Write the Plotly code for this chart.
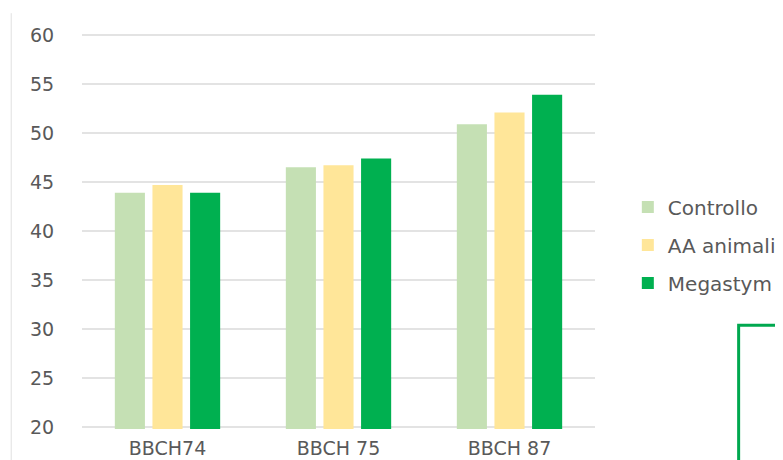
import plotly.graph_objects as go

categories = ["BBCH74", "BBCH 75", "BBCH 87"]
controllo = [43.9, 46.5, 50.9]
aa_animali = [44.7, 46.7, 52.1]
megastym = [43.9, 47.4, 53.9]
series_names = ["Controllo", "AA animali", "Megastym"]
series_colors = ["#C5E0B4", "#FFE699", "#00B050"]
y_ticks = [20, 25, 30, 35, 40, 45, 50, 55, 60]

fig = go.Figure()
for name, vals, col in zip(series_names, [controllo, aa_animali, megastym], series_colors):
    fig.add_trace(go.Bar(
        x=categories, y=vals, name=name, marker_color=col,
        marker_line_width=0, legendgroup=name,
    ))

font_family = "DejaVu Sans"
fig.update_layout(
    width=783, height=460,
    margin=dict(l=74, r=196, t=25, b=39, autoexpand=False),
    paper_bgcolor="white", plot_bgcolor="white",
    barmode="group", bargap=0.34, bargroupgap=0.2,
    font=dict(family=font_family, color="#595959"),
    showlegend=True,
    legend=dict(
        x=1.064, xanchor="left", y=0.61, yanchor="top",
        font=dict(size=20, color="#595959", family=font_family),
        traceorder="grouped", tracegroupgap=9,
        bgcolor="rgba(0,0,0,0)",
    ),
    xaxis=dict(
        showgrid=False, showline=False, zeroline=False, automargin=False,
        tickfont=dict(size=19, color="#595959"),
        ticks="outside", ticklen=2, tickcolor="rgba(0,0,0,0)",
    ),
    yaxis=dict(
        range=[19.8, 60.2], tickvals=y_ticks, automargin=False,
        showgrid=True, gridcolor="#E3E3E3", gridwidth=1.5,
        zeroline=False, showline=False,
        tickfont=dict(size=19, color="#595959"),
        ticks="outside", ticklen=23, tickcolor="rgba(0,0,0,0)",
    ),
    shapes=[
        dict(type="line", xref="paper", yref="paper",
             x0=-0.138, x1=-0.138, y0=1.05, y1=-0.2,
             line=dict(color="#E0E0E0", width=1)),
        dict(type="rect", xref="paper", yref="paper",
             x0=1.28, x1=1.6, y0=0.262, y1=-0.3,
             line=dict(color="#00A84F", width=3)),
    ],
)

fig.write_html("out.html")
